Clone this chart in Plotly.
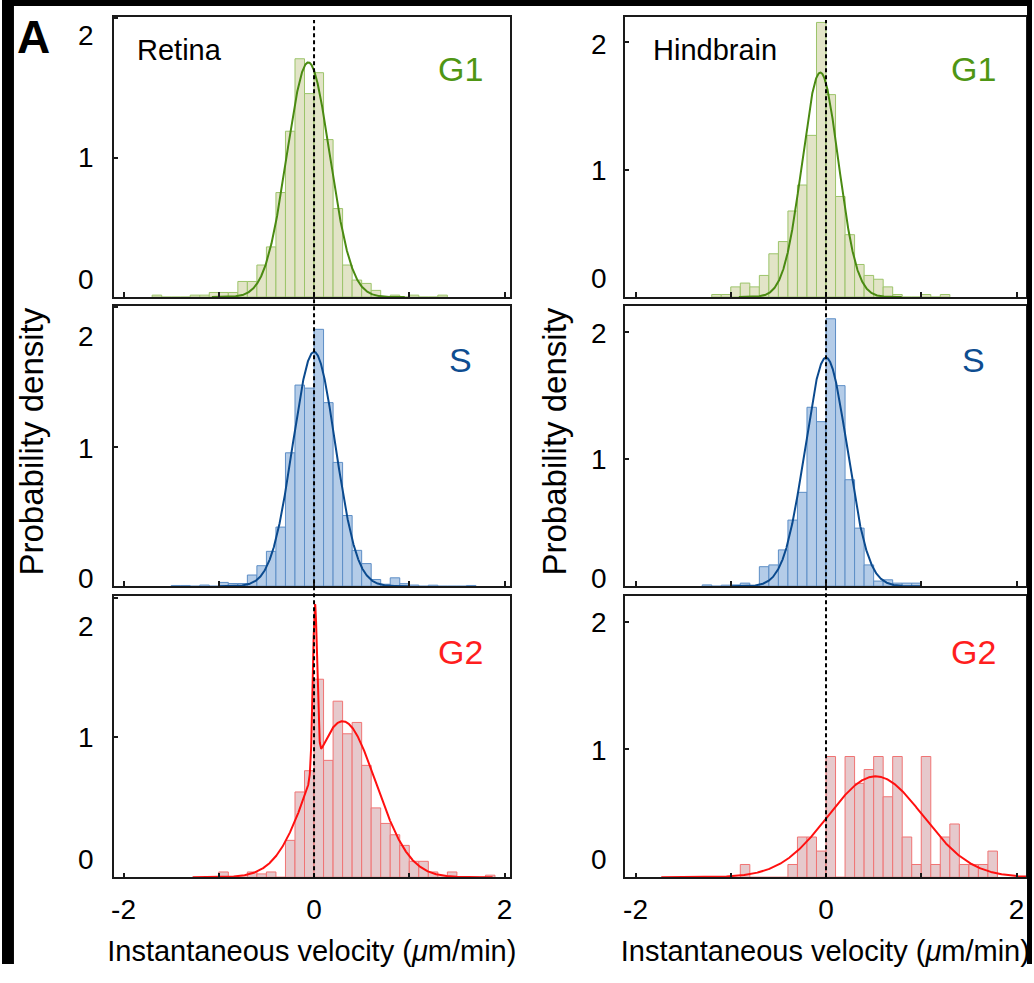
import numpy as np
import plotly.graph_objects as go

W, H = 1034, 967
BIN = 0.1
FONT = "Liberation Sans, Arial, Helvetica, sans-serif"

# Histogram heights (probability density) for 0.1-wide bins; *_start is the left edge of the first bin
retina_g1_start = -1.7
retina_g1 = [0.014, 0, 0, 0, 0.014, 0.014, 0.033, 0.033, 0.033, 0.112, 0.112, 0.23, 0.36, 0.75,
             1.19, 1.71, 1.46, 1.61, 1.13, 0.635, 0.23, 0.122, 0.098, 0.048, 0, 0.014, 0, 0.014,
             0, 0, 0.014]

hindbrain_g1_start = -1.2
hindbrain_g1 = [0.02, 0.02, 0.08, 0.11, 0.08, 0.17, 0.34, 0.436, 0.676, 0.88, 1.27, 2.157, 1.59,
                0.79, 0.49, 0.256, 0.17, 0.14, 0.08, 0.02, 0, 0, 0.02, 0, 0.02]

retina_s_start = -1.5
retina_s = [0.005, 0.005, 0, 0.008, 0, 0.027, 0.019, 0.019, 0.08, 0.147, 0.25, 0.424, 0.957, 1.443,
            1.421, 1.843, 1.317, 0.888, 0.507, 0.257, 0.162, 0.048, 0.014, 0.06, 0.018, 0.008, 0,
            0.007, 0, 0, 0, 0.005]

hindbrain_s_start = -1.3
hindbrain_s = [0.01, 0, 0.008, 0.01, 0.024, 0, 0.153, 0.167, 0.285, 0.519, 0.737, 1.405, 1.292,
               2.1, 1.575, 0.836, 0.456, 0.167, 0.04, 0.05, 0.024, 0.024, 0.024]

retina_g2_start = -1.0
retina_g2 = [0.038, 0, 0, 0.038, 0.024, 0.038, 0, 0.264, 0.61, 0.762, 1.416, 0.836, 1.259, 1.026,
             1.107, 0.8, 0.496, 0.385, 0.304, 0.228, 0.114, 0.114, 0.038, 0, 0.038, 0, 0, 0, 0.015]

hindbrain_g2_start = -0.9
hindbrain_g2 = [0.1, 0, 0, 0, 0, 0.1, 0.315, 0.315, 0.205, 0.945, 0, 0.945, 0.735, 0.843, 0.945,
                0.63, 0.945, 0.315, 0.1, 0.945, 0.1, 0.315, 0.417, 0.1, 0.1, 0.1, 0.205]

# Fitted normal components: (mean, sd, weight)
retina_g1_fit = [(-0.06, 0.225, 0.95)]
hindbrain_g1_fit = [(-0.06, 0.19, 0.84)]
retina_s_fit = [(0.0, 0.223, 0.94)]
hindbrain_s_fit = [(0.0, 0.22, 0.99)]
retina_g2_fit = [(0.01, 0.022, 0.064), (0.30, 0.35, 0.979)]
hindbrain_g2_fit = [(0.52, 0.50, 0.99)]

phase_labels = ["G1", "S", "G2"]
tissue_labels = ["Retina", "Hindbrain"]
x_ticks = [-2, -1, 0, 1, 2]
x_ticktext = ["-2", "", "0", "", "2"]
y_ticks = [0, 1, 2]

styles = {
    "G1": dict(fill="#e2e4c7", edge="#9cc46a", curve="#4a8a12", text="#4f9614"),
    "S": dict(fill="#b4cce8", edge="#5d8ec6", curve="#0b4a8e", text="#0e4d90"),
    "G2": dict(fill="#e6c9cc", edge="#f07474", curve="#ff1010", text="#ff1e1e"),
}

panels = [
    (0, 0, "G1", retina_g1_start, retina_g1, retina_g1_fit),
    (0, 1, "G1", hindbrain_g1_start, hindbrain_g1, hindbrain_g1_fit),
    (1, 0, "S", retina_s_start, retina_s, retina_s_fit),
    (1, 1, "S", hindbrain_s_start, hindbrain_s, hindbrain_s_fit),
    (2, 0, "G2", retina_g2_start, retina_g2, retina_g2_fit),
    (2, 1, "G2", hindbrain_g2_start, hindbrain_g2, hindbrain_g2_fit),
]

# layout geometry (pixels from the top-left corner)
col_px = [(112, 510), (625, 1028)]
row_px = [(17, 298), (307, 588), (598, 880)]
x_ranges = [[-2.105, 2.058], [-2.115, 2.1]]
y_ranges = [[0, 2.01], [0, 2.2]]
# y tick labels are nudged inward at the panel edges so neighbouring panels don't collide
ylabel_shift = {  # (row, col) -> {tick: pixels up}
    (0, 0): {0: 18, 1: 0, 2: -17}, (0, 1): {0: 19, 1: -1, 2: -2},
    (1, 0): {0: 8, 1: -2, 2: -29}, (1, 1): {0: 8, 1: -1, 2: -2},
    (2, 0): {0: 18, 1: 0, 2: -29}, (2, 1): {0: 18, 1: -1, 2: -1},
}
ylabel_gap = [-18, -16]


def normal_mix(x, comps):
    y = np.zeros_like(x)
    for m, s, w in comps:
        y += w / (s * np.sqrt(2 * np.pi)) * np.exp(-0.5 * ((x - m) / s) ** 2)
    return y


fig = go.Figure()
layout_axes = {}
annotations = []

for row, col, phase, start, heights, fit in panels:
    idx = row * 2 + col + 1
    sfx = "" if idx == 1 else str(idx)
    xa, ya = "x" + sfx, "y" + sfx
    st = styles[phase]
    centers = start + BIN * (np.arange(len(heights)) + 0.5)
    fig.add_trace(go.Bar(
        x=centers, y=heights, width=BIN, xaxis=xa, yaxis=ya,
        marker=dict(color=st["fill"], line=dict(color=st["edge"], width=1)),
        showlegend=False, hoverinfo="skip"))
    lo = max(x_ranges[col][0], min(m - 4.5 * s for m, s, w in fit))
    hi = min(x_ranges[col][1], max(m + 4.5 * s for m, s, w in fit))
    xs = np.linspace(lo, hi, 1500)
    fig.add_trace(go.Scatter(
        x=xs, y=normal_mix(xs, fit), mode="lines", xaxis=xa, yaxis=ya,
        line=dict(color=st["curve"], width=2), showlegend=False, hoverinfo="skip"))

    x0, x1 = col_px[col]
    y0, y1 = row_px[row]
    common = dict(showline=True, mirror=True, linecolor="#1a1a1a", linewidth=1.5,
                  ticks="inside", ticklen=5, tickwidth=1.5, tickcolor="#1a1a1a",
                  showgrid=False, zeroline=False,
                  tickfont=dict(family=FONT, size=28, color="black"))
    xcfg = dict(common, domain=[x0 / W, x1 / W], range=x_ranges[col], anchor=ya,
                tickmode="array", tickvals=x_ticks, ticktext=x_ticktext,
                showticklabels=(row == 2), ticklabelstandoff=6)
    if row == 2:
        xcfg["title"] = dict(text="Instantaneous velocity (<i>\u03bc</i>m/min)",
                             font=dict(family=FONT, size=29, color="black"), standoff=22)
    ycfg = dict(common, domain=[1 - y1 / H, 1 - y0 / H], range=y_ranges[col], anchor=xa,
                tickmode="array", tickvals=y_ticks, showticklabels=False)
    layout_axes["xaxis" + sfx] = xcfg
    layout_axes["yaxis" + sfx] = ycfg

    for v in y_ticks:
        annotations.append(dict(
            text=str(v), xref=f"{xa} domain", x=0, xanchor="right", xshift=ylabel_gap[col],
            yref=ya, y=v, yanchor="middle", yshift=ylabel_shift[(row, col)][v],
            showarrow=False, font=dict(family=FONT, size=28, color="black")))


def label(text, px, py, size, color, bold=False, angle=0):
    annotations.append(dict(
        text=f"<b>{text}</b>" if bold else text, x=px / W, y=1 - py / H,
        xref="paper", yref="paper", xanchor="center", yanchor="middle", showarrow=False,
        textangle=angle, font=dict(family=FONT, size=size, color=color)))


label("A", 32, 37, 46, "black", bold=True)
label(tissue_labels[0], 178, 50, 29, "black")
label(tissue_labels[1], 716, 50, 29, "black")
phase_y = [69, 361, 654]
for r, ph in enumerate(phase_labels):
    label(ph, 460, phase_y[r], 34, styles[ph]["text"])
    label(ph, 975, phase_y[r], 34, styles[ph]["text"])
label("Probability density", 30, 443, 33, "black", angle=-90)
label("Probability density", 555, 443, 33, "black", angle=-90)

shapes = []
# dashed zero-velocity reference through each column
for xa in ["x5", "x6"]:
    shapes.append(dict(type="line", xref=xa, yref="paper", x0=0, x1=0,
                       y0=1 - 880 / H, y1=1 - 20 / H,
                       line=dict(color="black", width=2, dash="4px,3px"), layer="above"))
# dark frame strips along the figure edges
for x0, x1, y0, y1 in [(0, 1, 1 - 6 / H, 1), (0, 12 / W, 0, 1), (1029 / W, 1, 0, 1)]:
    shapes.append(dict(type="rect", xref="paper", yref="paper", x0=x0, x1=x1, y0=y0, y1=y1,
                       fillcolor="black", line=dict(width=0), layer="above"))

fig.update_layout(
    width=W, height=H, margin=dict(l=0, r=0, t=0, b=0), autosize=False,
    paper_bgcolor="white", plot_bgcolor="white",
    barmode="overlay", showlegend=False,
    annotations=annotations, shapes=shapes,
    font=dict(family=FONT, color="black"),
    **layout_axes)

fig.write_html("out.html")
